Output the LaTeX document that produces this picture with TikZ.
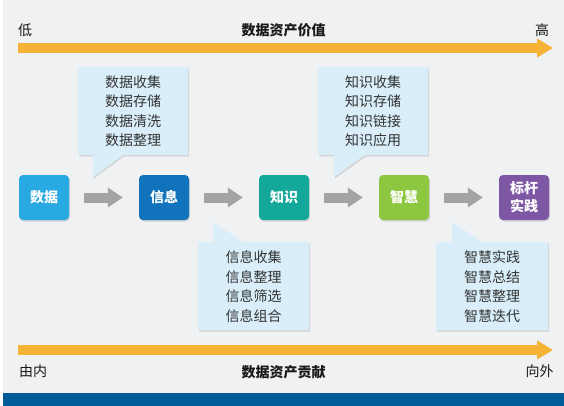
\documentclass[tikz,border=0pt]{standalone}
\usepackage{fontspec}
\newfontfamily\cjk{Noto Sans CJK SC}
\usetikzlibrary{arrows.meta,shadows}
\definecolor{bg}{HTML}{F0F1F3}
\definecolor{barblue}{HTML}{005B9A}
\definecolor{orangea}{HTML}{F5B335}
\definecolor{greya}{HTML}{A1A3A5}
\definecolor{calfill}{HTML}{D9EEF8}
\definecolor{txt}{HTML}{333333}
\definecolor{cdata}{HTML}{29A9E1}
\definecolor{cinfo}{HTML}{1173BB}
\definecolor{cknow}{HTML}{14A89B}
\definecolor{cwis}{HTML}{8DC63F}
\definecolor{cbench}{HTML}{7E57A4}
\tikzset{
  stagebox/.style={rounded corners=4pt, minimum width=50pt, minimum height=45pt,
    inner sep=0pt, text=white, font=\cjk\bfseries\fontsize{14}{18}\selectfont, align=center,
    drop shadow={shadow xshift=1pt, shadow yshift=-1.5pt, opacity=0.25}},
  garrow/.style={draw=greya, line width=10pt, -{Triangle[length=15pt,width=19pt]}},
  oarrow/.style={draw=orangea, line width=9.5pt, -{Triangle[length=16pt,width=18pt]}},
  calshape/.style={fill=calfill, drop shadow={shadow xshift=1pt, shadow yshift=-1.5pt, opacity=0.25}},
  caltext/.style={text=txt, font=\cjk\fontsize{14}{19.5}\selectfont, align=center, inner sep=0pt},
  axlabel/.style={text=black!90, font=\cjk\fontsize{14}{16}\selectfont, inner sep=0pt},
  axtitle/.style={text=black!90, font=\cjk\bfseries\fontsize{14}{16}\selectfont, inner sep=0pt}
}
\begin{document}
\begin{tikzpicture}[x=1pt,y=-1pt]
\useasboundingbox (0,0) rectangle (564,406);
\fill[white] (0,0) rectangle (564,406);
\fill[bg] (3,0) rectangle (564,393);
\fill[barblue] (3,393) rectangle (564,406);

% top axis
\node[axlabel] (low) at (25,30) {低};
\node[axtitle] (valt) at (283.5,30) {数据资产价值};
\node[axlabel] (high) at (542,30) {高};
\coordinate (ta) at (18,48);
\coordinate (tb) at (553,48);
\draw[oarrow] (ta) -- (tb);

% bottom axis
\coordinate (ba) at (18,350);
\coordinate (bb) at (553,350);
\draw[oarrow] (ba) -- (bb);
\node[axlabel] (inn) at (33,371) {由内};
\node[axtitle] (cont) at (283.5,372) {数据资产贡献};
\node[axlabel] (out) at (539.5,371) {向外};

% callouts
\path[calshape] (78,67) -- (188,67) -- (188,155) -- (123,155) -- (93,177) -- (93,155) -- (78,155) -- cycle;
\node[caltext] (c1) at (133,111) {数据收集\\数据存储\\数据清洗\\数据整理};
\path[calshape] (318,67) -- (428,67) -- (428,155) -- (365,155) -- (334,177) -- (334,155) -- (318,155) -- cycle;
\node[caltext] (c2) at (373,111) {知识收集\\知识存储\\知识链接\\知识应用};
\path[calshape] (198,242) -- (213,242) -- (213,222) -- (243,242) -- (309,242) -- (309,330) -- (198,330) -- cycle;
\node[caltext] (c3) at (253.5,286.5) {信息收集\\信息整理\\信息筛选\\信息组合};
\path[calshape] (436,242) -- (452,242) -- (452,222) -- (482,242) -- (548,242) -- (548,330) -- (436,330) -- cycle;
\node[caltext] (c4) at (492,286.5) {智慧实践\\智慧总结\\智慧整理\\智慧迭代};

% stages
\node[stagebox, fill=cdata] (d) at (44,197.5) {数据};
\node[stagebox, fill=cinfo] (i) at (164,197.5) {信息};
\node[stagebox, fill=cknow] (k) at (284,197.5) {知识};
\node[stagebox, fill=cwis] (w) at (404,197.5) {智慧};
\node[stagebox, fill=cbench] (b) at (524,197.5) {标杆\\实践};

\draw[garrow] ([xshift=15pt]d.east) -- ([xshift=-16pt]i.west);
\draw[garrow] ([xshift=15pt]i.east) -- ([xshift=-16pt]k.west);
\draw[garrow] ([xshift=15pt]k.east) -- ([xshift=-16pt]w.west);
\draw[garrow] ([xshift=15pt]w.east) -- ([xshift=-16pt]b.west);
\end{tikzpicture}
\end{document}
